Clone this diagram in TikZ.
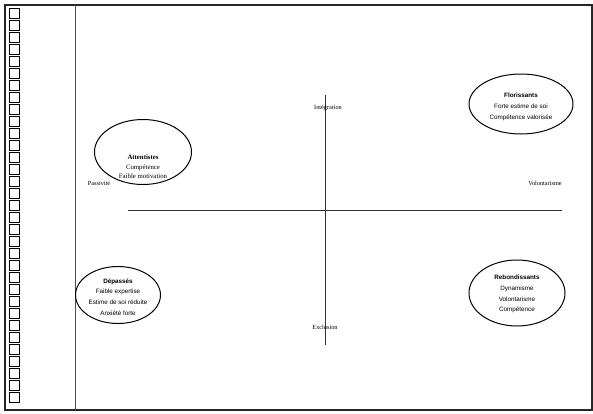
\documentclass[tikz,border=0pt]{standalone}
\usepackage{fontspec}
\setmainfont{Liberation Serif}
\setsansfont{Liberation Sans}
\usetikzlibrary{shapes.geometric}
\begin{document}
\begin{tikzpicture}[x=1pt,y=-1pt,
  oval/.style={draw,ellipse,line width=1pt,inner sep=0pt},
  inner/.style={font=\sffamily\fontsize{6.3}{10.8}\selectfont,align=center,inner sep=0pt},
  axlabel/.style={font=\fontsize{6.3}{7}\selectfont,inner sep=0pt},
  axis/.style={line width=0.8pt,black!80},
  sq/.style={draw,line width=0.6pt,minimum width=10pt,minimum height=10pt,inner sep=0pt}]
\useasboundingbox (0,0) rectangle (593,413);
\fill[white] (0,0) rectangle (593,413);
% frame
\draw[line width=2pt,black!85] (5,5) rectangle (592,410);
\coordinate (vt) at (75,5);
\coordinate (vb) at (75,410);
\draw[line width=0.6pt,black!70] (vt) -- (vb);
\foreach \i in {0,...,32}{
  \node[sq] (s\i) at (14,{13+\i*12}) {};
}
% axes
\coordinate (hl) at (128,210);
\coordinate (hr) at (562,210);
\coordinate (vtop) at (325,95);
\coordinate (vbot) at (325,345);
\draw[axis] (hl) -- (hr);
\draw[axis] (vtop) -- (vbot);
\node[axlabel] (integ) at (328,108) {Intégration};
\node[axlabel] (excl) at (325,327) {Exclusion};
\node[axlabel] (pass) at (99,183) {Passivité};
\node[axlabel] (volo) at (545,183) {Volontarisme};
% ellipses
\node[oval,minimum width=97pt,minimum height=65pt] (att) at (143,152) {};
\node[inner,font=\fontsize{6.8}{9.5}\selectfont] (attt) at (143,167) {\textbf{Attentistes}\\Compétence\\Faible motivation};
\node[oval,minimum width=104pt,minimum height=60pt] (flo) at (521,104) {};
\node[inner] (flot) at (521,107) {\textbf{Florissants}\\Forte estime de soi\\Compétence valorisée};
\node[oval,minimum width=85pt,minimum height=57pt] (dep) at (118,295) {};
\node[inner] (dept) at (118,297) {\textbf{Dépassés}\\Faible expertise\\Estime de soi réduite\\Anxiété forte};
\node[oval,minimum width=96pt,minimum height=66pt] (reb) at (517,293) {};
\node[inner] (rebt) at (517,294) {\textbf{Rebondissants}\\Dynamisme\\Volontarisme\\Compétence};
\end{tikzpicture}
\end{document}
